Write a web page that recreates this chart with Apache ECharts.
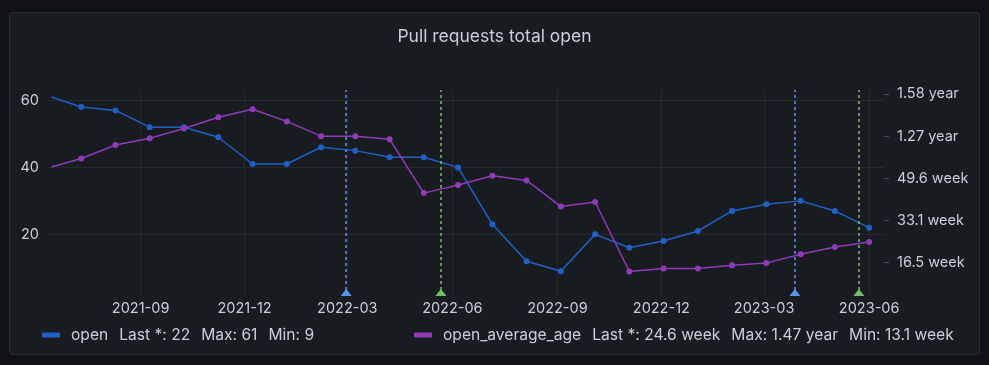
<!DOCTYPE html>
<html>
<head>
<meta charset="utf-8">
<script src="https://cdn.jsdelivr.net/npm/echarts@6/dist/echarts.min.js"></script>
<style>
  html, body { margin: 0; padding: 0; background: #111217; }
  #pullRequests { width: 989px; height: 365px; }
</style>
</head>
<body>
<div id="pullRequests"></div>
<script>
// sample dates (every 30 days, first point is the range start)
var dates = ["2021-06-15", "2021-07-11", "2021-08-10", "2021-09-09", "2021-10-09", "2021-11-08",
  "2021-12-08", "2022-01-07", "2022-02-06", "2022-03-08", "2022-04-07", "2022-05-07",
  "2022-06-06", "2022-07-06", "2022-08-05", "2022-09-04", "2022-10-04", "2022-11-03",
  "2022-12-03", "2023-01-02", "2023-02-01", "2023-03-03", "2023-04-02", "2023-05-02", "2023-06-01"];
// open pull requests
var openCount = [61, 58, 57, 52, 52, 49, 41, 41, 46, 45, 43, 43, 40, 23, 12, 9, 20, 16, 18, 21, 27, 29, 30, 27, 22];
// average age of open PRs, seconds
var openAge = [32.7e6, 34.7e6, 37.9e6, 39.5e6, 41.8e6, 44.5e6, 46.4e6, 43.5e6, 40.0e6, 40.0e6, 39.3e6, 26.5e6,
  28.4e6, 30.6e6, 29.5e6, 23.3e6, 24.4e6, 7.92e6, 8.6e6, 8.6e6, 9.4e6, 9.9e6, 12.0e6, 13.7e6, 14.88e6];
var xTicks = ["2021-09-01", "2021-12-01", "2022-03-01", "2022-06-01", "2022-09-01", "2022-12-01", "2023-03-01", "2023-06-01"];
var leftTicks = [20, 40, 60];
var rightTicks = [10e6, 20e6, 30e6, 40e6, 50e6];
// annotations
var blueMarks = ["2022-02-28", "2023-03-28"];
var greenMarks = ["2022-05-22", "2023-05-23"];

var FONT = "Inter, Roboto, sans-serif";
var TXT = "#ccccdc";
var YEAR = 31557600, WEEK = 604800;
var LEG_FS = 15.6;

function fmtAge(v) {
  if (v >= YEAR) return (v / YEAR).toFixed(2) + " year";
  return (v / WEEK).toFixed(1) + " week";
}
function ts(s) {
  var p = s.split("-");
  return new Date(+p[0], +p[1] - 1, +p[2]).getTime();
}
function fmtMonth(v) {
  var d = new Date(v);
  var m = d.getMonth() + 1;
  return d.getFullYear() + "-" + (m < 10 ? "0" + m : m);
}
function pts(vals) {
  return vals.map(function (v, i) {
    var item = { value: [ts(dates[i]), v] };
    if (i === 0) item.symbol = "none";
    return item;
  });
}
function legendRich() {
  return {
    n: { color: TXT, fontSize: LEG_FS, fontFamily: FONT, padding: [0, 0, 0, 6] },
    s: { color: TXT, fontSize: LEG_FS, fontFamily: FONT, padding: [0, 0, 0, 11] }
  };
}

var lastOpen = openCount[openCount.length - 1];
var lastAge = openAge[openAge.length - 1];
var Y_MIN = 1.6;
var AX_FS = 14.5;

var myChart = echarts.init(document.getElementById("pullRequests"));
myChart.setOption({
  animation: false,
  backgroundColor: "#111217",
  graphic: [{
    type: "rect",
    z: -10,
    shape: { x: 9.5, y: 12.5, width: 970, height: 342, r: 3 },
    style: { fill: "#181b1f", stroke: "rgba(204,204,220,0.12)", lineWidth: 1 }
  }],
  title: {
    text: "Pull requests total open",
    left: "center",
    top: 23,
    textStyle: { color: TXT, fontSize: 17.5, fontWeight: "normal", fontFamily: FONT }
  },
  legend: [{
    data: ["open"],
    left: 42, top: 327, padding: 0,
    icon: "roundRect", itemWidth: 18, itemHeight: 5,
    formatter: function (name) {
      return "{n|" + name + "}{s|Last *: " + lastOpen + "}{s|Max: " + Math.max.apply(null, openCount) +
        "}{s|Min: " + Math.min.apply(null, openCount) + "}";
    },
    textStyle: { color: TXT, fontSize: LEG_FS, fontFamily: FONT, rich: legendRich() }
  }, {
    data: ["open_average_age"],
    left: 414, top: 327, padding: 0,
    icon: "roundRect", itemWidth: 18, itemHeight: 5,
    formatter: function (name) {
      return "{n|" + name + "}{s|Last *: " + fmtAge(lastAge) + "}{s|Max: " + fmtAge(Math.max.apply(null, openAge)) +
        "}{s|Min: " + fmtAge(Math.min.apply(null, openAge)) + "}";
    },
    textStyle: { color: TXT, fontSize: LEG_FS, fontFamily: FONT, rich: legendRich() }
  }],
  grid: { left: 47, right: 105, top: 90, bottom: 69, containLabel: false },
  xAxis: {
    type: "value",
    min: ts("2021-06-11"),
    max: ts("2023-06-14"),
    axisLine: { show: false },
    axisTick: { show: false, customValues: xTicks.map(ts) },
    axisLabel: {
      customValues: xTicks.map(ts),
      formatter: fmtMonth,
      color: TXT, fontSize: AX_FS, fontFamily: FONT, margin: 5
    },
    splitLine: { show: true, lineStyle: { color: "rgba(204,204,220,0.08)", width: 1 } }
  },
  yAxis: [{
    type: "value",
    min: Y_MIN, max: 63.1,
    axisLine: { show: false },
    axisTick: { show: false, customValues: leftTicks },
    axisLabel: { customValues: leftTicks, color: TXT, fontSize: AX_FS, fontFamily: FONT, margin: 8 },
    splitLine: { show: true, lineStyle: { color: "rgba(204,204,220,0.08)", width: 1 } }
  }, {
    type: "value",
    position: "right",
    min: 2.1e6, max: 50.95e6,
    axisLine: { show: false },
    axisTick: { show: true, length: 5, customValues: rightTicks, lineStyle: { color: "rgba(204,204,220,0.25)" } },
    axisLabel: { customValues: rightTicks, formatter: fmtAge, color: TXT, fontSize: AX_FS, fontFamily: FONT, margin: 13 },
    splitLine: { show: false }
  }],
  series: [{
    name: "open",
    type: "line",
    yAxisIndex: 0,
    data: pts(openCount),
    color: "#1F60C4",
    symbol: "circle", symbolSize: 6, showSymbol: true,
    lineStyle: { width: 1.5 },
    z: 3
  }, {
    name: "open_average_age",
    type: "line",
    yAxisIndex: 1,
    data: pts(openAge),
    color: "#8F3BB8",
    symbol: "circle", symbolSize: 6, showSymbol: true,
    lineStyle: { width: 1.5 },
    z: 3
  }, {
    name: "annotations",
    type: "line",
    yAxisIndex: 0,
    data: [],
    z: 4,
    markLine: {
      silent: true, symbol: "none", label: { show: false },
      data: blueMarks.map(function (d) {
        return { xAxis: ts(d), lineStyle: { color: "#5794F2", type: [3, 3], width: 1.5 } };
      }).concat(greenMarks.map(function (d) {
        return { xAxis: ts(d), lineStyle: { color: "#73BF69", type: [3, 3], width: 1.5 } };
      }))
    },
    markPoint: {
      silent: true, symbol: "triangle", symbolSize: [11, 7], symbolOffset: [0, "-50%"],
      label: { show: false },
      data: blueMarks.map(function (d) {
        return { coord: [ts(d), Y_MIN], itemStyle: { color: "#5794F2" } };
      }).concat(greenMarks.map(function (d) {
        return { coord: [ts(d), Y_MIN], itemStyle: { color: "#73BF69" } };
      }))
    }
  }]
});
</script>
</body>
</html>
